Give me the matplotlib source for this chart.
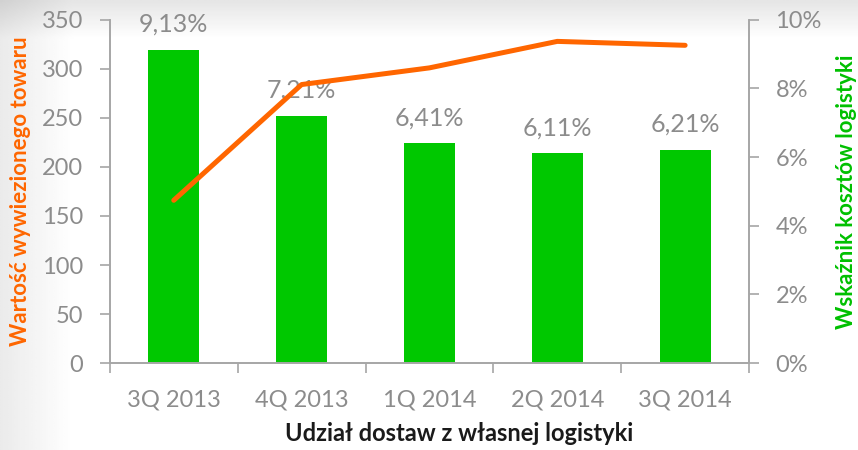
import numpy as np
import matplotlib
matplotlib.use("Agg")
import matplotlib.pyplot as plt
from matplotlib.ticker import FuncFormatter

plt.rcParams['font.family'] = ['Lato', 'DejaVu Sans']

categories = ["3Q 2013", "4Q 2013", "1Q 2014", "2Q 2014", "3Q 2014"]
cost_ratio = [9.13, 7.21, 6.41, 6.11, 6.21]          # % (bars, right axis)
cost_labels = ["9,13%", "7,21%", "6,41%", "6,11%", "6,21%"]
goods_value = [166, 284, 301, 328, 324]              # line, left axis

fig = plt.figure(figsize=(8.58, 4.5), dpi=100)

# subtle background gradient
bg = fig.add_axes([0, 0, 1, 1], zorder=-10)
yy, xx = np.mgrid[0:1:200j, 0:1:400j]
g = 1 - 0.10 * np.clip(1 - yy * 12, 0, 1) - 0.08 * np.clip(1 - xx * 12, 0, 1)
bg.imshow(g, cmap='gray', vmin=0, vmax=1, extent=[0, 1, 0, 1], aspect='auto')
bg.axis('off')

ax = fig.add_axes([0.128, 0.193, 0.745, 0.763])
ax2 = ax.twinx()
x = np.arange(len(categories))

grey = '#8c8c8c'
spine_c = '#a6a6a6'

ax2.bar(x, cost_ratio, width=0.4, color='#00c800')
for xi, v, lab in zip(x, cost_ratio, cost_labels):
    ax2.annotate(lab, (xi, v), xytext=(0, 10), textcoords='offset points',
                 ha='center', va='bottom', fontsize=18, color=grey)
ax2.set_ylim(0, 10)
ax2.set_yticks([0, 2, 4, 6, 8, 10])
ax2.yaxis.set_major_formatter(FuncFormatter(lambda v, p: f"{int(v)}%"))

ax.plot(x, goods_value, color='#ff6600', lw=3.6, solid_capstyle='round', zorder=5)
ax.set_ylim(0, 350)
ax.set_yticks(range(0, 351, 50))
ax.set_xlim(-0.5, len(categories) - 0.5)

ax.set_zorder(ax2.get_zorder() + 1)
ax.patch.set_visible(False)
ax2.patch.set_visible(False)

# x ticks at boundaries, labels at centres
ax.set_xticks(np.arange(-0.5, len(categories), 1.0))
ax.set_xticklabels([])
ax.set_xticks(x, minor=True)
ax.set_xticklabels(categories, minor=True)
ax.tick_params(axis='x', which='minor', length=0, pad=19, labelsize=17, labelcolor=grey)
ax.tick_params(axis='x', which='major', length=7, color=spine_c, width=1.2)
ax.tick_params(axis='y', length=7, color=spine_c, width=1.2, labelsize=17, labelcolor=grey, pad=12)
ax2.tick_params(axis='y', length=7, color=spine_c, width=1.2, labelsize=17, labelcolor=grey, pad=12)

for a in (ax, ax2):
    a.spines['top'].set_visible(False)
    for s in ('left', 'right', 'bottom'):
        a.spines[s].set_color(spine_c)
        a.spines[s].set_linewidth(1.2)

ax.set_ylabel("Wartość wywiezionego towaru", color='#ff6600', fontsize=16,
              fontweight='bold', labelpad=8)
ax2.set_ylabel("Wskaźnik kosztów logistyki", color='#00c000', fontsize=16,
               fontweight='bold', labelpad=10, rotation=90)
ax.set_xlabel("Udział dostaw z własnej logistyki", color='#1a1a1a', fontsize=17,
              fontweight='bold')
ax.xaxis.set_label_coords(0.546, -0.17)

fig.savefig("out.png", dpi=100)
